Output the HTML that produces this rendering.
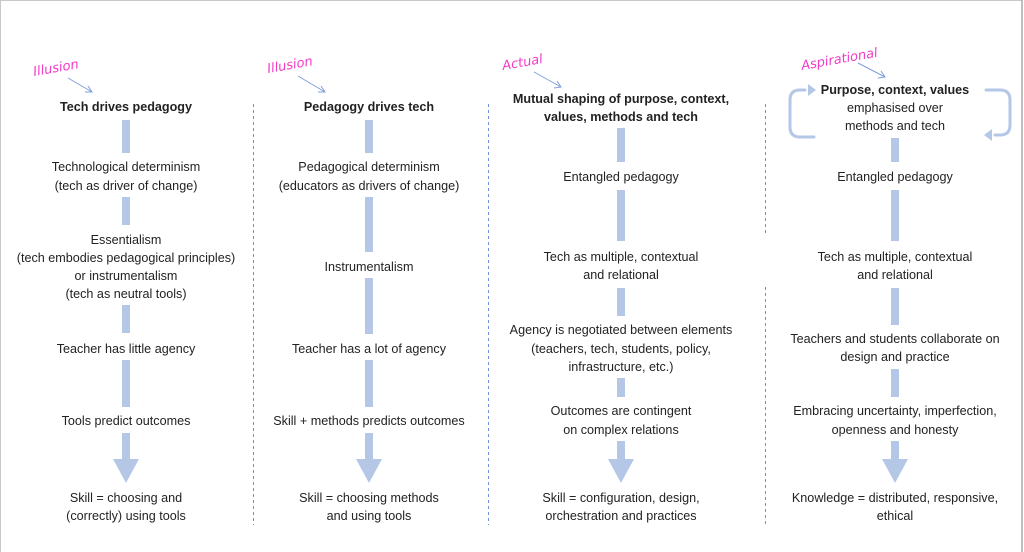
<!DOCTYPE html>
<html><head><meta charset="utf-8"><style>
html,body{margin:0;padding:0;background:#fff;}
svg{display:block;}
text{font-family:"Liberation Sans",sans-serif;font-size:12.6px;fill:#222;text-anchor:middle;}
.b{font-weight:bold;}
.p{font-family:"DejaVu Sans",sans-serif;font-style:italic;font-size:13px;fill:#f03cc8;text-anchor:start;}
</style></head><body>
<svg width="1024" height="552" viewBox="0 0 1024 552" xmlns="http://www.w3.org/2000/svg">
<rect x="0.5" y="0.5" width="1021.5" height="560" fill="#fff" stroke="#c8c8c8" stroke-width="1"/>
<line x1="1022" y1="0" x2="1022" y2="552" stroke="#aaa" stroke-width="1.5"/>
<g stroke="#6f93d8" stroke-width="1" stroke-dasharray="3,3">
<line x1="253.5" y1="104" x2="253.5" y2="525"/>
<line x1="488.5" y1="104" x2="488.5" y2="525"/>
<line x1="765.5" y1="104" x2="765.5" y2="235"/>
<line x1="765.5" y1="287" x2="765.5" y2="525"/>
</g>
<g fill="#b4c7e7">
<rect x="122" y="120" width="8" height="33"/>
<rect x="122" y="197" width="8" height="28"/>
<rect x="122" y="305" width="8" height="28"/>
<rect x="122" y="360" width="8" height="47"/>
<rect x="122" y="433" width="8" height="27"/><polygon points="113,459 139,459 126,483"/>
<rect x="365" y="120" width="8" height="33"/>
<rect x="365" y="197" width="8" height="55"/>
<rect x="365" y="278" width="8" height="56"/>
<rect x="365" y="360" width="8" height="47"/>
<rect x="365" y="433" width="8" height="27"/><polygon points="356,459 382,459 369,483"/>
<rect x="617" y="128" width="8" height="34"/>
<rect x="617" y="190" width="8" height="51"/>
<rect x="617" y="288" width="8" height="28"/>
<rect x="617" y="378" width="8" height="19"/>
<rect x="617" y="441" width="8" height="19"/><polygon points="608,459 634,459 621,483"/>
<rect x="891" y="138" width="8" height="24"/>
<rect x="891" y="190" width="8" height="51"/>
<rect x="891" y="288" width="8" height="37"/>
<rect x="891" y="369" width="8" height="28"/>
<rect x="891" y="441" width="8" height="19"/><polygon points="882,459 908,459 895,483"/>
</g>
<text class="p" x="34" y="76" transform="rotate(-10 34 76)">Illusion</text>
<text class="p" x="268" y="73" transform="rotate(-10 268 73)">Illusion</text>
<text class="p" x="503" y="70" transform="rotate(-10 503 70)">Actual</text>
<text class="p" x="802" y="70" transform="rotate(-10 802 70)">Aspirational</text>
<g stroke="#7f9fdc" stroke-width="1" fill="none">
<path d="M68,78 L92,92 M85,92 L92,92 L88,86"/>
<path d="M298,76 L325,92 M318,92 L325,92 L321,86"/>
<path d="M534,72 L561,87 M554,88 L561,87 L557,81"/>
<path d="M858,63 L885,77 M878,78 L885,77 L881,71"/>
</g>
<g stroke="#b4c7e7" stroke-width="3" fill="none" stroke-linecap="round">
<path d="M814,137 L800,137 Q790,137 790,127 L790,100 Q790,90 800,90 L805,90"/>
<path d="M986,90 L1000,90 Q1010,90 1010,100 L1010,125 Q1010,135 1000,135 L995,135"/>
</g>
<g fill="#b4c7e7">
<polygon points="808,84 816,90 808,96"/>
<polygon points="992,129 984,135 992,141"/>
</g>
<text class="b" x="126" y="111">Tech drives pedagogy</text>
<text x="126" y="171">Technological determinism</text>
<text x="126" y="190">(tech as driver of change)</text>
<text x="126" y="244">Essentialism</text>
<text x="126" y="262">(tech embodies pedagogical principles)</text>
<text x="126" y="280">or instrumentalism</text>
<text x="126" y="298">(tech as neutral tools)</text>
<text x="126" y="353">Teacher has little agency</text>
<text x="126" y="425">Tools predict outcomes</text>
<text x="126" y="502">Skill = choosing and</text>
<text x="126" y="520">(correctly) using tools</text>
<text class="b" x="369" y="111">Pedagogy drives tech</text>
<text x="369" y="171">Pedagogical determinism</text>
<text x="369" y="190">(educators as drivers of change)</text>
<text x="369" y="271">Instrumentalism</text>
<text x="369" y="353">Teacher has a lot of agency</text>
<text x="369" y="425">Skill + methods predicts outcomes</text>
<text x="369" y="502">Skill = choosing methods</text>
<text x="369" y="520">and using tools</text>
<text class="b" x="621" y="103">Mutual shaping of purpose, context,</text>
<text class="b" x="621" y="121">values, methods and tech</text>
<text x="621" y="181">Entangled pedagogy</text>
<text x="621" y="261">Tech as multiple, contextual</text>
<text x="621" y="279">and relational</text>
<text x="621" y="334">Agency is negotiated between elements</text>
<text x="621" y="353">(teachers, tech, students, policy,</text>
<text x="621" y="371">infrastructure, etc.)</text>
<text x="621" y="415">Outcomes are contingent</text>
<text x="621" y="434">on complex relations</text>
<text x="621" y="502">Skill = configuration, design,</text>
<text x="621" y="520">orchestration and practices</text>
<text class="b" x="895" y="94">Purpose, context, values</text>
<text x="895" y="112">emphasised over</text>
<text x="895" y="130">methods and tech</text>
<text x="895" y="181">Entangled pedagogy</text>
<text x="895" y="261">Tech as multiple, contextual</text>
<text x="895" y="279">and relational</text>
<text x="895" y="343">Teachers and students collaborate on</text>
<text x="895" y="361">design and practice</text>
<text x="895" y="415">Embracing uncertainty, imperfection,</text>
<text x="895" y="434">openness and honesty</text>
<text x="895" y="502">Knowledge = distributed, responsive,</text>
<text x="895" y="520">ethical</text>
</svg>
</body></html>
